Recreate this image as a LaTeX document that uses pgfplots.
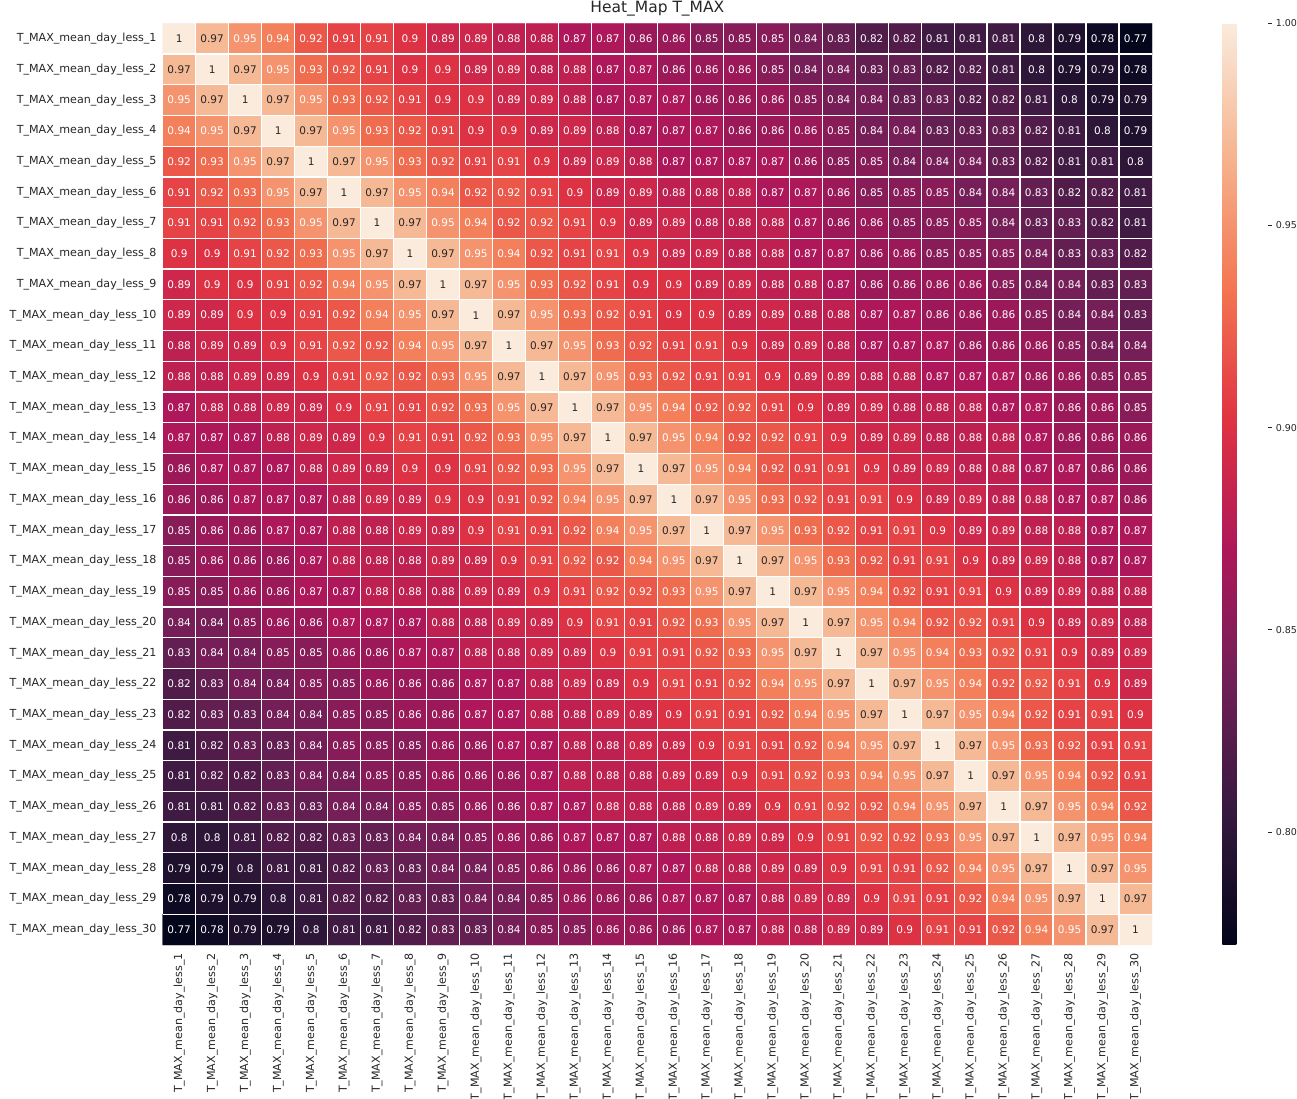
\documentclass[border=0pt]{standalone}
\usepackage{pgfplots}
\usepackage{pgfplotstable}
\pgfplotsset{compat=1.18}
\usepackage{fontspec}
\setmainfont{DejaVu Sans}
\definecolor{txt}{RGB}{38,38,38}
\pgfplotstableread{
x y c
1 1 1
2 1 0.97
3 1 0.95
4 1 0.94
5 1 0.92
6 1 0.91
7 1 0.91
8 1 0.9
9 1 0.89
10 1 0.89
11 1 0.88
12 1 0.88
13 1 0.87
14 1 0.87
15 1 0.86
16 1 0.86
17 1 0.85
18 1 0.85
19 1 0.85
20 1 0.84
21 1 0.83
22 1 0.82
23 1 0.82
24 1 0.81
25 1 0.81
26 1 0.81
27 1 0.8
28 1 0.79
29 1 0.78
30 1 0.77
1 2 0.97
2 2 1
3 2 0.97
4 2 0.95
5 2 0.93
6 2 0.92
7 2 0.91
8 2 0.9
9 2 0.9
10 2 0.89
11 2 0.89
12 2 0.88
13 2 0.88
14 2 0.87
15 2 0.87
16 2 0.86
17 2 0.86
18 2 0.86
19 2 0.85
20 2 0.84
21 2 0.84
22 2 0.83
23 2 0.83
24 2 0.82
25 2 0.82
26 2 0.81
27 2 0.8
28 2 0.79
29 2 0.79
30 2 0.78
1 3 0.95
2 3 0.97
3 3 1
4 3 0.97
5 3 0.95
6 3 0.93
7 3 0.92
8 3 0.91
9 3 0.9
10 3 0.9
11 3 0.89
12 3 0.89
13 3 0.88
14 3 0.87
15 3 0.87
16 3 0.87
17 3 0.86
18 3 0.86
19 3 0.86
20 3 0.85
21 3 0.84
22 3 0.84
23 3 0.83
24 3 0.83
25 3 0.82
26 3 0.82
27 3 0.81
28 3 0.8
29 3 0.79
30 3 0.79
1 4 0.94
2 4 0.95
3 4 0.97
4 4 1
5 4 0.97
6 4 0.95
7 4 0.93
8 4 0.92
9 4 0.91
10 4 0.9
11 4 0.9
12 4 0.89
13 4 0.89
14 4 0.88
15 4 0.87
16 4 0.87
17 4 0.87
18 4 0.86
19 4 0.86
20 4 0.86
21 4 0.85
22 4 0.84
23 4 0.84
24 4 0.83
25 4 0.83
26 4 0.83
27 4 0.82
28 4 0.81
29 4 0.8
30 4 0.79
1 5 0.92
2 5 0.93
3 5 0.95
4 5 0.97
5 5 1
6 5 0.97
7 5 0.95
8 5 0.93
9 5 0.92
10 5 0.91
11 5 0.91
12 5 0.9
13 5 0.89
14 5 0.89
15 5 0.88
16 5 0.87
17 5 0.87
18 5 0.87
19 5 0.87
20 5 0.86
21 5 0.85
22 5 0.85
23 5 0.84
24 5 0.84
25 5 0.84
26 5 0.83
27 5 0.82
28 5 0.81
29 5 0.81
30 5 0.8
1 6 0.91
2 6 0.92
3 6 0.93
4 6 0.95
5 6 0.97
6 6 1
7 6 0.97
8 6 0.95
9 6 0.94
10 6 0.92
11 6 0.92
12 6 0.91
13 6 0.9
14 6 0.89
15 6 0.89
16 6 0.88
17 6 0.88
18 6 0.88
19 6 0.87
20 6 0.87
21 6 0.86
22 6 0.85
23 6 0.85
24 6 0.85
25 6 0.84
26 6 0.84
27 6 0.83
28 6 0.82
29 6 0.82
30 6 0.81
1 7 0.91
2 7 0.91
3 7 0.92
4 7 0.93
5 7 0.95
6 7 0.97
7 7 1
8 7 0.97
9 7 0.95
10 7 0.94
11 7 0.92
12 7 0.92
13 7 0.91
14 7 0.9
15 7 0.89
16 7 0.89
17 7 0.88
18 7 0.88
19 7 0.88
20 7 0.87
21 7 0.86
22 7 0.86
23 7 0.85
24 7 0.85
25 7 0.85
26 7 0.84
27 7 0.83
28 7 0.83
29 7 0.82
30 7 0.81
1 8 0.9
2 8 0.9
3 8 0.91
4 8 0.92
5 8 0.93
6 8 0.95
7 8 0.97
8 8 1
9 8 0.97
10 8 0.95
11 8 0.94
12 8 0.92
13 8 0.91
14 8 0.91
15 8 0.9
16 8 0.89
17 8 0.89
18 8 0.88
19 8 0.88
20 8 0.87
21 8 0.87
22 8 0.86
23 8 0.86
24 8 0.85
25 8 0.85
26 8 0.85
27 8 0.84
28 8 0.83
29 8 0.83
30 8 0.82
1 9 0.89
2 9 0.9
3 9 0.9
4 9 0.91
5 9 0.92
6 9 0.94
7 9 0.95
8 9 0.97
9 9 1
10 9 0.97
11 9 0.95
12 9 0.93
13 9 0.92
14 9 0.91
15 9 0.9
16 9 0.9
17 9 0.89
18 9 0.89
19 9 0.88
20 9 0.88
21 9 0.87
22 9 0.86
23 9 0.86
24 9 0.86
25 9 0.86
26 9 0.85
27 9 0.84
28 9 0.84
29 9 0.83
30 9 0.83
1 10 0.89
2 10 0.89
3 10 0.9
4 10 0.9
5 10 0.91
6 10 0.92
7 10 0.94
8 10 0.95
9 10 0.97
10 10 1
11 10 0.97
12 10 0.95
13 10 0.93
14 10 0.92
15 10 0.91
16 10 0.9
17 10 0.9
18 10 0.89
19 10 0.89
20 10 0.88
21 10 0.88
22 10 0.87
23 10 0.87
24 10 0.86
25 10 0.86
26 10 0.86
27 10 0.85
28 10 0.84
29 10 0.84
30 10 0.83
1 11 0.88
2 11 0.89
3 11 0.89
4 11 0.9
5 11 0.91
6 11 0.92
7 11 0.92
8 11 0.94
9 11 0.95
10 11 0.97
11 11 1
12 11 0.97
13 11 0.95
14 11 0.93
15 11 0.92
16 11 0.91
17 11 0.91
18 11 0.9
19 11 0.89
20 11 0.89
21 11 0.88
22 11 0.87
23 11 0.87
24 11 0.87
25 11 0.86
26 11 0.86
27 11 0.86
28 11 0.85
29 11 0.84
30 11 0.84
1 12 0.88
2 12 0.88
3 12 0.89
4 12 0.89
5 12 0.9
6 12 0.91
7 12 0.92
8 12 0.92
9 12 0.93
10 12 0.95
11 12 0.97
12 12 1
13 12 0.97
14 12 0.95
15 12 0.93
16 12 0.92
17 12 0.91
18 12 0.91
19 12 0.9
20 12 0.89
21 12 0.89
22 12 0.88
23 12 0.88
24 12 0.87
25 12 0.87
26 12 0.87
27 12 0.86
28 12 0.86
29 12 0.85
30 12 0.85
1 13 0.87
2 13 0.88
3 13 0.88
4 13 0.89
5 13 0.89
6 13 0.9
7 13 0.91
8 13 0.91
9 13 0.92
10 13 0.93
11 13 0.95
12 13 0.97
13 13 1
14 13 0.97
15 13 0.95
16 13 0.94
17 13 0.92
18 13 0.92
19 13 0.91
20 13 0.9
21 13 0.89
22 13 0.89
23 13 0.88
24 13 0.88
25 13 0.88
26 13 0.87
27 13 0.87
28 13 0.86
29 13 0.86
30 13 0.85
1 14 0.87
2 14 0.87
3 14 0.87
4 14 0.88
5 14 0.89
6 14 0.89
7 14 0.9
8 14 0.91
9 14 0.91
10 14 0.92
11 14 0.93
12 14 0.95
13 14 0.97
14 14 1
15 14 0.97
16 14 0.95
17 14 0.94
18 14 0.92
19 14 0.92
20 14 0.91
21 14 0.9
22 14 0.89
23 14 0.89
24 14 0.88
25 14 0.88
26 14 0.88
27 14 0.87
28 14 0.86
29 14 0.86
30 14 0.86
1 15 0.86
2 15 0.87
3 15 0.87
4 15 0.87
5 15 0.88
6 15 0.89
7 15 0.89
8 15 0.9
9 15 0.9
10 15 0.91
11 15 0.92
12 15 0.93
13 15 0.95
14 15 0.97
15 15 1
16 15 0.97
17 15 0.95
18 15 0.94
19 15 0.92
20 15 0.91
21 15 0.91
22 15 0.9
23 15 0.89
24 15 0.89
25 15 0.88
26 15 0.88
27 15 0.87
28 15 0.87
29 15 0.86
30 15 0.86
1 16 0.86
2 16 0.86
3 16 0.87
4 16 0.87
5 16 0.87
6 16 0.88
7 16 0.89
8 16 0.89
9 16 0.9
10 16 0.9
11 16 0.91
12 16 0.92
13 16 0.94
14 16 0.95
15 16 0.97
16 16 1
17 16 0.97
18 16 0.95
19 16 0.93
20 16 0.92
21 16 0.91
22 16 0.91
23 16 0.9
24 16 0.89
25 16 0.89
26 16 0.88
27 16 0.88
28 16 0.87
29 16 0.87
30 16 0.86
1 17 0.85
2 17 0.86
3 17 0.86
4 17 0.87
5 17 0.87
6 17 0.88
7 17 0.88
8 17 0.89
9 17 0.89
10 17 0.9
11 17 0.91
12 17 0.91
13 17 0.92
14 17 0.94
15 17 0.95
16 17 0.97
17 17 1
18 17 0.97
19 17 0.95
20 17 0.93
21 17 0.92
22 17 0.91
23 17 0.91
24 17 0.9
25 17 0.89
26 17 0.89
27 17 0.88
28 17 0.88
29 17 0.87
30 17 0.87
1 18 0.85
2 18 0.86
3 18 0.86
4 18 0.86
5 18 0.87
6 18 0.88
7 18 0.88
8 18 0.88
9 18 0.89
10 18 0.89
11 18 0.9
12 18 0.91
13 18 0.92
14 18 0.92
15 18 0.94
16 18 0.95
17 18 0.97
18 18 1
19 18 0.97
20 18 0.95
21 18 0.93
22 18 0.92
23 18 0.91
24 18 0.91
25 18 0.9
26 18 0.89
27 18 0.89
28 18 0.88
29 18 0.87
30 18 0.87
1 19 0.85
2 19 0.85
3 19 0.86
4 19 0.86
5 19 0.87
6 19 0.87
7 19 0.88
8 19 0.88
9 19 0.88
10 19 0.89
11 19 0.89
12 19 0.9
13 19 0.91
14 19 0.92
15 19 0.92
16 19 0.93
17 19 0.95
18 19 0.97
19 19 1
20 19 0.97
21 19 0.95
22 19 0.94
23 19 0.92
24 19 0.91
25 19 0.91
26 19 0.9
27 19 0.89
28 19 0.89
29 19 0.88
30 19 0.88
1 20 0.84
2 20 0.84
3 20 0.85
4 20 0.86
5 20 0.86
6 20 0.87
7 20 0.87
8 20 0.87
9 20 0.88
10 20 0.88
11 20 0.89
12 20 0.89
13 20 0.9
14 20 0.91
15 20 0.91
16 20 0.92
17 20 0.93
18 20 0.95
19 20 0.97
20 20 1
21 20 0.97
22 20 0.95
23 20 0.94
24 20 0.92
25 20 0.92
26 20 0.91
27 20 0.9
28 20 0.89
29 20 0.89
30 20 0.88
1 21 0.83
2 21 0.84
3 21 0.84
4 21 0.85
5 21 0.85
6 21 0.86
7 21 0.86
8 21 0.87
9 21 0.87
10 21 0.88
11 21 0.88
12 21 0.89
13 21 0.89
14 21 0.9
15 21 0.91
16 21 0.91
17 21 0.92
18 21 0.93
19 21 0.95
20 21 0.97
21 21 1
22 21 0.97
23 21 0.95
24 21 0.94
25 21 0.93
26 21 0.92
27 21 0.91
28 21 0.9
29 21 0.89
30 21 0.89
1 22 0.82
2 22 0.83
3 22 0.84
4 22 0.84
5 22 0.85
6 22 0.85
7 22 0.86
8 22 0.86
9 22 0.86
10 22 0.87
11 22 0.87
12 22 0.88
13 22 0.89
14 22 0.89
15 22 0.9
16 22 0.91
17 22 0.91
18 22 0.92
19 22 0.94
20 22 0.95
21 22 0.97
22 22 1
23 22 0.97
24 22 0.95
25 22 0.94
26 22 0.92
27 22 0.92
28 22 0.91
29 22 0.9
30 22 0.89
1 23 0.82
2 23 0.83
3 23 0.83
4 23 0.84
5 23 0.84
6 23 0.85
7 23 0.85
8 23 0.86
9 23 0.86
10 23 0.87
11 23 0.87
12 23 0.88
13 23 0.88
14 23 0.89
15 23 0.89
16 23 0.9
17 23 0.91
18 23 0.91
19 23 0.92
20 23 0.94
21 23 0.95
22 23 0.97
23 23 1
24 23 0.97
25 23 0.95
26 23 0.94
27 23 0.92
28 23 0.91
29 23 0.91
30 23 0.9
1 24 0.81
2 24 0.82
3 24 0.83
4 24 0.83
5 24 0.84
6 24 0.85
7 24 0.85
8 24 0.85
9 24 0.86
10 24 0.86
11 24 0.87
12 24 0.87
13 24 0.88
14 24 0.88
15 24 0.89
16 24 0.89
17 24 0.9
18 24 0.91
19 24 0.91
20 24 0.92
21 24 0.94
22 24 0.95
23 24 0.97
24 24 1
25 24 0.97
26 24 0.95
27 24 0.93
28 24 0.92
29 24 0.91
30 24 0.91
1 25 0.81
2 25 0.82
3 25 0.82
4 25 0.83
5 25 0.84
6 25 0.84
7 25 0.85
8 25 0.85
9 25 0.86
10 25 0.86
11 25 0.86
12 25 0.87
13 25 0.88
14 25 0.88
15 25 0.88
16 25 0.89
17 25 0.89
18 25 0.9
19 25 0.91
20 25 0.92
21 25 0.93
22 25 0.94
23 25 0.95
24 25 0.97
25 25 1
26 25 0.97
27 25 0.95
28 25 0.94
29 25 0.92
30 25 0.91
1 26 0.81
2 26 0.81
3 26 0.82
4 26 0.83
5 26 0.83
6 26 0.84
7 26 0.84
8 26 0.85
9 26 0.85
10 26 0.86
11 26 0.86
12 26 0.87
13 26 0.87
14 26 0.88
15 26 0.88
16 26 0.88
17 26 0.89
18 26 0.89
19 26 0.9
20 26 0.91
21 26 0.92
22 26 0.92
23 26 0.94
24 26 0.95
25 26 0.97
26 26 1
27 26 0.97
28 26 0.95
29 26 0.94
30 26 0.92
1 27 0.8
2 27 0.8
3 27 0.81
4 27 0.82
5 27 0.82
6 27 0.83
7 27 0.83
8 27 0.84
9 27 0.84
10 27 0.85
11 27 0.86
12 27 0.86
13 27 0.87
14 27 0.87
15 27 0.87
16 27 0.88
17 27 0.88
18 27 0.89
19 27 0.89
20 27 0.9
21 27 0.91
22 27 0.92
23 27 0.92
24 27 0.93
25 27 0.95
26 27 0.97
27 27 1
28 27 0.97
29 27 0.95
30 27 0.94
1 28 0.79
2 28 0.79
3 28 0.8
4 28 0.81
5 28 0.81
6 28 0.82
7 28 0.83
8 28 0.83
9 28 0.84
10 28 0.84
11 28 0.85
12 28 0.86
13 28 0.86
14 28 0.86
15 28 0.87
16 28 0.87
17 28 0.88
18 28 0.88
19 28 0.89
20 28 0.89
21 28 0.9
22 28 0.91
23 28 0.91
24 28 0.92
25 28 0.94
26 28 0.95
27 28 0.97
28 28 1
29 28 0.97
30 28 0.95
1 29 0.78
2 29 0.79
3 29 0.79
4 29 0.8
5 29 0.81
6 29 0.82
7 29 0.82
8 29 0.83
9 29 0.83
10 29 0.84
11 29 0.84
12 29 0.85
13 29 0.86
14 29 0.86
15 29 0.86
16 29 0.87
17 29 0.87
18 29 0.87
19 29 0.88
20 29 0.89
21 29 0.89
22 29 0.9
23 29 0.91
24 29 0.91
25 29 0.92
26 29 0.94
27 29 0.95
28 29 0.97
29 29 1
30 29 0.97
1 30 0.77
2 30 0.78
3 30 0.79
4 30 0.79
5 30 0.8
6 30 0.81
7 30 0.81
8 30 0.82
9 30 0.83
10 30 0.83
11 30 0.84
12 30 0.85
13 30 0.85
14 30 0.86
15 30 0.86
16 30 0.86
17 30 0.87
18 30 0.87
19 30 0.88
20 30 0.88
21 30 0.89
22 30 0.89
23 30 0.9
24 30 0.91
25 30 0.91
26 30 0.92
27 30 0.94
28 30 0.95
29 30 0.97
30 30 1
}\heat
\begin{document}
\begin{tikzpicture}
\path[use as bounding box] (0,0) rectangle (1297pt,1099pt);
\begin{axis}[
  at={(162.7pt,154pt)}, anchor=south west,
  scale only axis, width=989.3pt, height=921.7pt,
  xmin=0.5, xmax=30.5, ymin=0.5, ymax=30.5, y dir=reverse,
  axis line style={draw=none},
  xtick={1,...,30}, ytick={1,...,30},
  xticklabels={T\_MAX\_mean\_day\_less\_1,T\_MAX\_mean\_day\_less\_2,T\_MAX\_mean\_day\_less\_3,T\_MAX\_mean\_day\_less\_4,T\_MAX\_mean\_day\_less\_5,T\_MAX\_mean\_day\_less\_6,T\_MAX\_mean\_day\_less\_7,T\_MAX\_mean\_day\_less\_8,T\_MAX\_mean\_day\_less\_9,T\_MAX\_mean\_day\_less\_10,T\_MAX\_mean\_day\_less\_11,T\_MAX\_mean\_day\_less\_12,T\_MAX\_mean\_day\_less\_13,T\_MAX\_mean\_day\_less\_14,T\_MAX\_mean\_day\_less\_15,T\_MAX\_mean\_day\_less\_16,T\_MAX\_mean\_day\_less\_17,T\_MAX\_mean\_day\_less\_18,T\_MAX\_mean\_day\_less\_19,T\_MAX\_mean\_day\_less\_20,T\_MAX\_mean\_day\_less\_21,T\_MAX\_mean\_day\_less\_22,T\_MAX\_mean\_day\_less\_23,T\_MAX\_mean\_day\_less\_24,T\_MAX\_mean\_day\_less\_25,T\_MAX\_mean\_day\_less\_26,T\_MAX\_mean\_day\_less\_27,T\_MAX\_mean\_day\_less\_28,T\_MAX\_mean\_day\_less\_29,T\_MAX\_mean\_day\_less\_30},
  yticklabels={T\_MAX\_mean\_day\_less\_1,T\_MAX\_mean\_day\_less\_2,T\_MAX\_mean\_day\_less\_3,T\_MAX\_mean\_day\_less\_4,T\_MAX\_mean\_day\_less\_5,T\_MAX\_mean\_day\_less\_6,T\_MAX\_mean\_day\_less\_7,T\_MAX\_mean\_day\_less\_8,T\_MAX\_mean\_day\_less\_9,T\_MAX\_mean\_day\_less\_10,T\_MAX\_mean\_day\_less\_11,T\_MAX\_mean\_day\_less\_12,T\_MAX\_mean\_day\_less\_13,T\_MAX\_mean\_day\_less\_14,T\_MAX\_mean\_day\_less\_15,T\_MAX\_mean\_day\_less\_16,T\_MAX\_mean\_day\_less\_17,T\_MAX\_mean\_day\_less\_18,T\_MAX\_mean\_day\_less\_19,T\_MAX\_mean\_day\_less\_20,T\_MAX\_mean\_day\_less\_21,T\_MAX\_mean\_day\_less\_22,T\_MAX\_mean\_day\_less\_23,T\_MAX\_mean\_day\_less\_24,T\_MAX\_mean\_day\_less\_25,T\_MAX\_mean\_day\_less\_26,T\_MAX\_mean\_day\_less\_27,T\_MAX\_mean\_day\_less\_28,T\_MAX\_mean\_day\_less\_29,T\_MAX\_mean\_day\_less\_30},
  major tick length=0pt, minor tick length=0pt,
  minor xtick={1.5,2.5,...,29.5}, minor ytick={1.5,2.5,...,29.5},
  xminorgrids, yminorgrids,
  minor grid style={white, line width=1.3pt},
  axis on top,
  tick label style={font=\fontsize{11.1}{13}\selectfont, text=txt},
  xticklabel style={rotate=90, anchor=east, inner sep=0pt},
  yticklabel style={anchor=east, inner sep=0pt},
  xticklabel shift=8pt, yticklabel shift=6pt,
  title={Heat\_Map T\_MAX},
  title style={at={(0.5,1)}, anchor=base, yshift=5pt, font=\fontsize{15.5}{18}\selectfont, text=txt},
  colormap={rocket}{rgb255(0)=(3,5,26) rgb255(1)=(53,25,62) rgb255(2)=(112,31,87) rgb255(3)=(173,23,89) rgb255(4)=(225,51,66) rgb255(5)=(243,118,81) rgb255(6)=(246,180,143) rgb255(7)=(250,235,221)},
  point meta min=0.772, point meta max=1,
  colorbar,
  colorbar style={
    at={(parent axis.north east)}, anchor=north west, xshift=61.7pt, width=45.3pt,
    ytick={0.8,0.85,0.9,0.95,1},
    yticklabel style={font=\fontsize{9.5}{11}\selectfont, text=txt, inner sep=0pt, /pgf/number format/.cd, fixed, fixed zerofill, precision=2, assume math mode=true},
    axis line style={draw=none},
    ytick pos=right, tick align=outside, major tick length=4pt,
    tick style={color=txt, line width=0.6pt},
    yticklabel shift=4pt,
  },
]
\addplot[matrix plot*, mesh/cols=30, point meta=explicit] table[x=x, y=y, meta=c]{\heat};
\addplot[only marks, mark=*, mark size=0pt, mark options={draw=none, fill=none},
  restrict expr to domain={\thisrow{c}}{0:0.96},
  point meta=explicit symbolic,
  nodes near coords={\pgfplotspointmeta},
  nodes near coords align={center},
  every node near coord/.append style={font=\fontsize{10.5}{12}\selectfont, inner sep=0pt, text=white}]
  table[x=x, y=y, meta=c]{\heat};
\addplot[only marks, mark=*, mark size=0pt, mark options={draw=none, fill=none},
  restrict expr to domain={\thisrow{c}}{0.96:2},
  point meta=explicit symbolic,
  nodes near coords={\pgfplotspointmeta},
  nodes near coords align={center},
  every node near coord/.append style={font=\fontsize{10.5}{12}\selectfont, inner sep=0pt, text=txt}]
  table[x=x, y=y, meta=c]{\heat};
\end{axis}
\end{tikzpicture}
\end{document}
